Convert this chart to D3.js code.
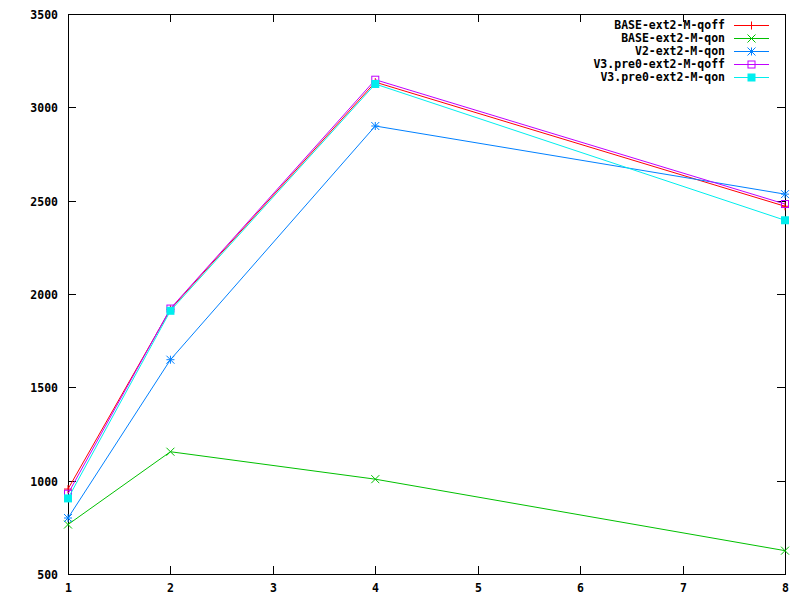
<!DOCTYPE html>
<html lang="en">
  <head>
    <meta charset="utf-8">
    <title>Chart</title>
    <style>
      body { margin: 0; background: #fff; }
      text { font-family: "DejaVu Sans Mono", monospace; font-weight: bold; font-size: 11.5px; fill: #000; }
    </style>
  </head>
  <body>
    <div id="chart"></div>
    <script src="https://cdn.jsdelivr.net/npm/d3@7"></script>
    <script type="text/javascript">
    (function(d3) {
      'use strict';

      var xValues = [1, 2, 4, 8];
      var seriesNames = ['BASE-ext2-M-qoff', 'BASE-ext2-M-qon', 'V2-ext2-M-qon', 'V3.pre0-ext2-M-qoff', 'V3.pre0-ext2-M-qon'];
      var baseQoff = [955, 1918, 3135, 2470];
      var baseQon = [765, 1155, 1008, 625];
      var v2Qon = [800, 1648, 2900, 2535];
      var v3Qoff = [930, 1922, 3148, 2482];
      var v3Qon = [905, 1910, 3125, 2395];
      var xTicks = [1, 2, 3, 4, 5, 6, 7, 8];
      var yTicks = [500, 1000, 1500, 2000, 2500, 3000, 3500];

      var colors = ['#ff0000', '#00c000', '#0080ff', '#c000ff', '#00eeee'];
      var symbols = ['plus', 'cross', 'star', 'openSquare', 'filledSquare'];
      var allSeries = [baseQoff, baseQon, v2Qon, v3Qoff, v3Qon];

      var width = 800, height = 600;
      var left = 68, right = 785, top = 14, bottom = 574;

      var svg = d3.select('#chart').append('svg')
        .attr('width', width).attr('height', height);

      var x = d3.scaleLinear().domain([1, 8]).range([left, right]);
      var y = d3.scaleLinear().domain([500, 3500]).range([bottom, top]);

      // frame
      svg.append('rect')
        .attr('x', left + 0.5).attr('y', top + 0.5)
        .attr('width', right - left).attr('height', bottom - top)
        .attr('fill', 'none').attr('stroke', '#000');

      // ticks (mirrored like gnuplot)
      var axisG = svg.append('g').attr('shape-rendering', 'crispEdges');
      xTicks.forEach(function(t) {
        var px = Math.round(x(t)) + 0.5;
        axisG.append('line').attr('x1', px).attr('x2', px).attr('y1', bottom).attr('y2', bottom - 8).attr('stroke', '#000');
        axisG.append('line').attr('x1', px).attr('x2', px).attr('y1', top).attr('y2', top + 8).attr('stroke', '#000');
        svg.append('text').attr('x', px).attr('y', bottom + 18).attr('text-anchor', 'middle').text(t);
      });
      yTicks.forEach(function(t) {
        var py = Math.round(y(t)) + 0.5;
        axisG.append('line').attr('x1', left).attr('x2', left + 8).attr('y1', py).attr('y2', py).attr('stroke', '#000');
        axisG.append('line').attr('x1', right).attr('x2', right - 8).attr('y1', py).attr('y2', py).attr('stroke', '#000');
        svg.append('text').attr('x', left - 10).attr('y', py + 4).attr('text-anchor', 'end').text(t);
      });

      function drawSymbol(g, kind, cx, cy, color) {
        var s = 4;
        if (kind === 'plus') {
          g.append('path').attr('d', 'M' + (cx - s) + ',' + cy + 'H' + (cx + s) + 'M' + cx + ',' + (cy - s) + 'V' + (cy + s))
            .attr('stroke', color).attr('fill', 'none');
        } else if (kind === 'cross') {
          g.append('path').attr('d', 'M' + (cx - s) + ',' + (cy - s) + 'L' + (cx + s) + ',' + (cy + s) + 'M' + (cx - s) + ',' + (cy + s) + 'L' + (cx + s) + ',' + (cy - s))
            .attr('stroke', color).attr('fill', 'none');
        } else if (kind === 'star') {
          g.append('path').attr('d', 'M' + (cx - s) + ',' + cy + 'H' + (cx + s) + 'M' + cx + ',' + (cy - s) + 'V' + (cy + s) +
              'M' + (cx - s) + ',' + (cy - s) + 'L' + (cx + s) + ',' + (cy + s) + 'M' + (cx - s) + ',' + (cy + s) + 'L' + (cx + s) + ',' + (cy - s))
            .attr('stroke', color).attr('fill', 'none');
        } else if (kind === 'openSquare') {
          g.append('rect').attr('x', cx - s + 0.5).attr('y', cy - s + 0.5).attr('width', 2 * s - 1).attr('height', 2 * s - 1)
            .attr('stroke', color).attr('fill', 'none');
        } else {
          g.append('rect').attr('x', cx - s).attr('y', cy - s).attr('width', 2 * s).attr('height', 2 * s)
            .attr('fill', color);
        }
      }

      var line = d3.line()
        .x(function(d, i) { return x(xValues[i]); })
        .y(function(d) { return y(d); });

      allSeries.forEach(function(data, k) {
        var g = svg.append('g');
        g.append('path').datum(data).attr('d', line)
          .attr('fill', 'none').attr('stroke', colors[k]).attr('stroke-width', 1);
        data.forEach(function(v, i) {
          drawSymbol(g, symbols[k], x(xValues[i]), y(v), colors[k]);
        });

        // legend entry
        var ly = 25 + k * 13;
        svg.append('text').attr('x', 725).attr('y', ly + 4).attr('text-anchor', 'end').text(seriesNames[k]);
        g.append('line').attr('x1', 734).attr('x2', 769).attr('y1', ly + 0.5).attr('y2', ly + 0.5).attr('stroke', colors[k]);
        drawSymbol(g, symbols[k], 751.5, ly + 0.5, colors[k]);
      });

    })(window.d3);
    </script>
  </body>
</html>
